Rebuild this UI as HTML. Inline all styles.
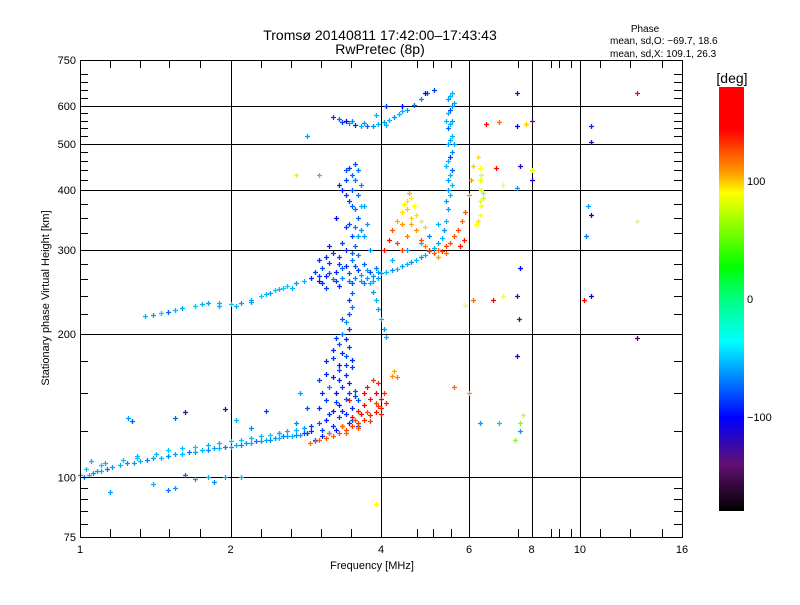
<!DOCTYPE html>
<html><head><meta charset="utf-8"><style>
body{margin:0;background:#fff;}
svg text{font-family:"Liberation Sans",sans-serif;fill:#000;}
</style></head><body>
<svg id="chart" width="800" height="600" viewBox="0 0 800 600" xmlns="http://www.w3.org/2000/svg">
<rect width="800" height="600" fill="#fff"/>
<text x="380" y="40" font-size="14" text-anchor="middle">Tromsø 20140811 17:42:00–17:43:43</text>
<text x="380" y="54" font-size="14" text-anchor="middle">RwPretec (8p)</text>
<text x="645" y="32" font-size="10" text-anchor="middle">Phase</text>
<text x="610" y="44" font-size="10">mean, sd,O: −69.7, 18.6</text>
<text x="610" y="57" font-size="10">mean, sd,X: 109.1, 26.3</text>
<g id="grid"></g>
<g id="points"></g>
<g id="axes"></g>
<text x="372" y="569" font-size="11" text-anchor="middle">Frequency [MHz]</text>
<text transform="translate(49,298) rotate(-90)" font-size="11" text-anchor="middle">Stationary phase Virtual Height [km]</text>
<defs><linearGradient id="cg" x1="0" y1="1" x2="0" y2="0">
<stop offset="0" stop-color="#000"/><stop offset="0.11" stop-color="#601070"/><stop offset="0.22" stop-color="#0000ff"/><stop offset="0.4" stop-color="#00ffff"/><stop offset="0.5" stop-color="#00ff80"/><stop offset="0.575" stop-color="#00ff00"/><stop offset="0.75" stop-color="#ffff00"/><stop offset="0.8" stop-color="#ff9900"/><stop offset="0.9" stop-color="#ff0000"/><stop offset="1" stop-color="#ff0000"/></linearGradient></defs>
<rect x="719" y="87" width="25" height="424" fill="url(#cg)"/>
<text x="732" y="83" font-size="14" text-anchor="middle">[deg]</text>
<g id="cbar"></g>
</svg>
<script>
const xMajorTicks=[1,2,4,6,8,10,16];
const xGridLines=[2,4,6,8,10];
const xMinorTicks=[1.15,1.32,1.51,1.74,2.3,2.64,3.03,3.48,4.72,5.09,5.53,7.52,8.74,9.1,9.6,10.96,12.6,14.6];
const yMajorTicks=[75,100,200,300,400,500,600,750];
const yGridLines=[100,200,300,400,500,600];
const yMinorTicks=[80,85,90,95,125,150,175,220,240,260,280,325,350,375,420,440,460,480,520,540,560,580,625,650,675,700];
const colorTicks=[100,0,-100];

const lowOTrace=[[1.0,101,-60],[1.02,100,-70],[1.04,101,-55],[1.06,102,-65],[1.08,103,-60],[1.1,103,-55],[1.13,104,-70],[1.16,105,-60],[1.2,106,-55],[1.24,107,-65],[1.28,107,-60],[1.32,108,-55],[1.36,109,-70],[1.4,110,-60],[1.45,110,-55],[1.5,111,-65],[1.55,112,-60],[1.6,112,-55],[1.65,113,-70],[1.7,113,-60],[1.75,114,-55],[1.8,114,-65],[1.85,115,-60],[1.9,115,-55],[1.95,116,-70],[2.0,116,-60],[2.05,117,-55],[2.1,117,-65],[2.15,118,-60],[2.2,118,-55],[2.25,119,-70],[2.3,119,-60],[2.35,120,-55],[2.4,120,-65],[2.45,121,-60],[2.5,121,-55],[2.55,122,-70],[2.6,122,-60],[2.65,122,-55],[2.7,123,-65],[2.75,123,-60],[2.8,124,-80],[2.85,124,-85],[2.9,125,-90],[1.7,116,-50],[1.9,118,-55],[2.1,120,-50],[2.3,122,-55],[2.5,124,-50],[2.7,126,-55],[2.9,128,-85],[1.5,114,-50],[1.3,111,-55],[1.1,106,-50],[1.03,104,-50],[1.12,107,-55],[1.22,109,-50],[1.42,112,-55],[1.6,115,-50],[1.8,117,-55],[2.0,119,-50],[2.2,121,-55],[2.4,123,-50],[2.6,125,-55],[2.8,127,-60]];
const lowScatter=[[1.05,108,-55],[1.15,93,-60],[1.4,97,-55],[1.5,94,-70],[1.55,95,-60],[1.62,101,-75],[1.7,99,-60],[1.8,100,-55],[1.85,98,-65],[1.95,100,-60],[2.1,100,-55],[1.25,133,-60],[1.27,131,-75],[1.55,133,-75],[1.62,137,-130],[1.95,139,-120],[2.05,132,-55],[2.2,127,-65],[2.35,138,-85],[2.5,124,-55],[1.3,110,-50]];
const oColumn=[[2.95,120,-85],[3.05,122,-90],[3.15,124,-80],[3.25,126,-95],[3.35,128,-85],[3.45,130,-90],[3.0,130,-80],[3.1,132,-95],[3.2,128,-90],[3.3,134,-85],[3.4,136,-90],[3.5,132,-80],[3.0,140,-90],[3.1,145,-85],[3.2,138,-95],[3.3,142,-90],[3.4,146,-80],[3.5,140,-90],[3.55,148,-85],[3.05,150,-90],[3.15,155,-70],[3.25,150,-95],[3.35,155,-85],[3.45,158,-90],[3.55,152,-80],[3.0,160,-85],[3.1,165,-90],[3.2,162,-95],[3.3,168,-80],[3.4,164,-90],[3.5,170,-85],[3.1,175,-90],[3.2,178,-85],[3.3,172,-95],[3.4,180,-80],[3.5,176,-90],[3.45,188,-85],[3.2,185,-90],[3.3,190,-80],[3.4,195,-90],[3.35,200,-70],[3.45,205,-85],[3.4,212,-65],[3.45,220,-80],[3.5,228,-70],[3.45,236,-85],[3.5,244,-75],[3.35,182,-90],[3.25,196,-85],[2.75,150,-60],[2.85,140,-80],[2.7,130,-65],[3.6,128,-85],[3.6,145,-80],[3.05,126,-85],[3.15,136,-90],[3.25,144,-85],[3.35,138,-90],[3.45,150,-85],[3.3,160,-90],[3.4,172,-85],[3.35,215,-80]];
const lowXTrace=[[2.88,118,120],[2.95,119,122],[3.0,120,120],[3.1,121,125],[3.2,122,122],[3.3,124,125],[3.4,126,128],[3.5,128,130],[3.6,130,132],[3.7,132,135],[3.8,135,138],[3.9,137,140],[4.0,140,138],[4.1,143,135],[3.4,124,122],[3.6,127,125],[3.8,131,130],[4.0,136,140],[3.5,134,140],[3.6,138,142],[3.7,142,145],[3.8,146,140],[3.9,150,145],[4.0,146,148],[3.75,155,140],[3.85,160,132],[3.95,158,136],[3.7,150,150],[3.65,136,145],[3.9,143,128],[4.05,150,132],[4.2,163,110],[4.3,162,115],[4.25,167,105],[3.45,145,140],[3.15,124,118],[3.35,128,120],[3.55,132,125],[3.75,137,128],[3.95,141,132]];
const fLowTrace=[[1.35,218,-55],[1.4,219,-60],[1.45,221,-50],[1.5,222,-75],[1.55,224,-55],[1.6,226,-60],[1.7,229,-50],[1.8,232,-60],[1.9,232,-55],[2.0,231,-50],[2.1,232,-60],[2.2,236,-55],[2.3,240,-50],[2.4,244,-60],[2.5,248,-55],[2.6,252,-50],[2.7,256,-60],[2.8,258,-55],[1.9,229,-55],[2.2,233,-60],[2.45,247,-50],[2.65,250,-55],[1.75,231,-55],[2.05,229,-55],[2.35,242,-55],[2.55,250,-50]];
const fCloud=[[2.9,262,-90],[2.95,270,-85],[3.0,258,-95],[3.05,275,-80],[3.1,265,-90],[3.15,282,-85],[3.2,260,-70],[3.25,270,-90],[3.3,290,-85],[3.35,262,-65],[3.4,278,-90],[3.45,268,-80],[3.5,285,-70],[3.55,262,-65],[3.6,272,-85],[3.65,266,-60],[3.7,280,-75],[3.75,262,-60],[3.8,270,-80],[3.85,264,-65],[3.9,275,-70],[3.95,262,-60],[4.0,268,-65],[3.1,250,-85],[3.3,252,-90],[3.5,255,-80],[3.7,256,-70],[3.0,285,-90],[3.2,295,-85],[3.4,300,-90],[3.6,292,-70],[3.15,305,-90],[3.35,310,-85],[3.55,305,-75],[3.5,320,-80],[3.65,330,-65],[3.4,335,-85],[3.6,350,-75],[3.55,365,-70],[3.45,380,-85],[3.6,390,-70],[3.5,400,-80],[3.3,410,-90],[3.4,420,-85],[3.5,430,-75],[3.6,440,-70],[3.55,455,-80],[3.45,445,-85],[3.35,400,-95],[3.65,410,-65],[3.7,370,-60],[3.7,320,-60],[3.8,300,-65],[3.75,340,-60],[3.25,350,-100],[3.8,255,-55],[3.85,245,-60],[3.9,235,-55],[3.95,225,-60],[4.0,215,-55],[4.05,205,-60],[4.1,197,-55],[3.0,265,-85],[3.05,255,-90],[3.15,268,-80],[3.25,258,-85],[3.35,275,-75],[3.45,258,-70],[3.55,278,-80],[3.65,258,-60],[3.75,272,-60],[3.85,258,-55],[3.95,270,-60],[3.1,290,-90],[3.3,280,-85],[3.5,295,-75],[3.45,340,-80],[3.55,335,-70],[3.5,370,-75],[3.4,390,-85],[3.55,420,-70],[3.4,440,-80],[3.65,370,-55],[3.6,320,-60]];
const fOTrace=[[4.1,270,-55],[4.2,272,-65],[4.3,274,-55],[4.4,277,-60],[4.5,280,-55],[4.6,283,-65],[4.7,286,-55],[4.8,290,-60],[4.9,293,-55],[5.0,298,-65],[5.1,303,-55],[5.2,310,-60],[5.3,318,-55],[5.35,330,-65],[5.4,345,-55],[5.45,365,-60],[5.5,390,-55],[4.2,285,-55],[4.5,300,-60],[4.8,310,-55],[5.0,320,-65],[5.2,340,-55],[5.45,400,-65],[5.55,410,-55],[5.45,420,-60],[5.55,440,-75],[5.45,460,-55],[5.55,480,-65],[5.45,500,-60],[5.55,520,-55],[5.45,540,-75],[5.55,560,-60],[5.45,580,-55],[5.55,600,-65],[5.45,620,-60],[5.55,640,-55],[5.5,430,-55],[5.5,470,-85],[5.5,510,-60],[5.5,550,-55],[5.5,590,-80],[5.5,630,-55],[5.4,380,-60],[5.4,450,-55],[5.6,500,-60],[5.4,560,-55],[5.6,610,-60]];
const fXTrace=[[4.2,330,125],[4.3,345,105],[4.4,360,95],[4.45,375,92],[4.5,380,95],[4.6,385,92],[4.65,370,88],[4.7,355,95],[4.6,340,105],[4.5,320,115],[4.4,300,130],[4.3,310,128],[4.7,330,110],[4.8,315,125],[4.9,305,115],[5.0,300,130],[5.1,295,125],[5.2,300,120],[5.3,298,130],[5.4,305,128],[5.5,310,125],[5.6,320,125],[5.7,330,128],[5.8,345,120],[5.9,360,125],[6.0,390,112],[6.05,420,108],[6.1,450,100],[5.2,290,108],[4.8,345,92],[4.9,335,98],[4.55,395,105],[5.75,305,140],[5.85,315,138],[4.15,315,140],[4.05,300,145],[4.5,365,100],[4.6,350,98],[4.4,340,110],[5.4,295,120]];
const xGreenTrace=[[6.25,470,95],[6.3,445,90],[6.3,420,85],[6.35,400,80],[6.4,385,75],[6.35,370,85],[6.3,355,90],[6.25,345,95],[6.4,395,70],[6.2,340,90],[6.35,430,80],[6.3,380,85]];
const upperTrace=[[3.3,565,-75],[3.35,555,-85],[3.45,552,-60],[3.55,548,-90],[3.65,545,-55],[3.75,545,-75],[3.85,546,-65],[3.95,550,-55],[4.05,555,-60],[4.15,562,-55],[4.25,570,-65],[4.35,578,-55],[4.5,590,-60],[4.65,605,-75],[4.8,620,-65],[4.95,640,-75],[5.1,650,-85],[3.4,560,-100],[3.2,570,-85],[3.9,575,-55],[3.5,560,-65],[3.7,552,-60],[4.1,548,-55],[4.4,585,-55]];
const sparsePoints=[[7.5,640,-120],[7.5,545,-100],[7.6,450,-110],[7.5,405,-60],[7.6,275,-100],[7.5,240,-130],[7.55,215,-140],[7.5,180,-110],[7.6,130,60],[7.4,120,60],[10.5,545,-90],[10.5,505,-110],[10.4,370,-60],[10.5,355,-100],[10.3,320,-70],[10.5,240,-100],[10.2,235,170],[13,640,150],[13,345,90],[13,196,-150],[6.7,235,150],[7.0,240,90],[8.0,420,-110],[6.5,550,150],[6.9,555,120],[7.8,550,100],[8.0,560,-140],[6.1,235,120],[5.9,230,90],[3.9,88,90],[6.8,445,150],[7.0,410,90],[6.0,150,110],[5.6,155,120],[6.3,130,-60],[2.7,430,80],[3.0,430,30],[6.9,130,-50],[7.7,135,80],[8.0,440,80],[4.1,600,-90],[4.4,600,-100],[4.9,640,-110],[2.85,520,-60],[7.6,125,-60]];

const NS="http://www.w3.org/2000/svg";
const X0=80,X1=682,Y0=60,Y1=537;
function xs(f){return X0+150.5*Math.log2(f);}
function ys(h){return Y1-477*Math.log10(h/75);}
const stops=[[-180,[0,0,0]],[-140,[96,16,112]],[-100,[0,0,255]],[-36,[0,255,255]],[0,[0,255,128]],[27,[0,255,0]],[90,[255,255,0]],[108,[255,153,0]],[144,[255,0,0]],[180,[255,0,0]]];
function col(p){for(let i=1;i<stops.length;i++){if(p<=stops[i][0]){const a=stops[i-1],b=stops[i];const t=(p-a[0])/(b[0]-a[0]);const c=a[1].map((v,k)=>Math.round(v+(b[1][k]-v)*t));return 'rgb('+c.join(',')+')';}}return "rgb(255,0,0)";}
function mk(tag,attrs,parent){const e=document.createElementNS(NS,tag);for(const k in attrs)e.setAttribute(k,attrs[k]);parent.appendChild(e);return e;}

const grid=document.getElementById('grid'),axes=document.getElementById('axes'),pts=document.getElementById('points'),cbar=document.getElementById('cbar');
xGridLines.forEach(f=>{const l=mk('line',{x1:Math.round(xs(f))+.5,x2:Math.round(xs(f))+.5,y1:Y0,y2:Y1,stroke:'#000','stroke-width':1},grid);

});
yGridLines.forEach(h=>{const l=mk('line',{x1:X0,x2:X1,y1:Math.round(ys(h))+.5,y2:Math.round(ys(h))+.5,stroke:'#000','stroke-width':1},grid);

});

const groups=[['low-o-trace',lowOTrace],['low-scatter',lowScatter],['o-column',oColumn],['low-x-trace',lowXTrace],['f-low-trace',fLowTrace],['f-cloud',fCloud],['f-o-trace',fOTrace],['f-x-trace',fXTrace],['x-green-trace',xGreenTrace],['upper-trace',upperTrace],['sparse-points',sparsePoints]];
groups.forEach(([name,arr])=>{const g=mk('g',{},pts);


arr.forEach(d=>{const x=Math.round(xs(d[0])),y=Math.round(ys(d[1]));const p=mk('path',{d:'M'+(x-2)+' '+(y+.5)+'h5M'+(x+.5)+' '+(y-2)+'v5',stroke:col(d[2]),'stroke-width':1.3,fill:'none'},g);

});});

const box=mk('rect',{x:X0+.5,y:Y0+.5,width:X1-X0,height:Y1-Y0,fill:'none',stroke:'#000','stroke-width':1},axes);


xMajorTicks.forEach(f=>{const x=Math.round(xs(f))+.5;
mk('line',{x1:x,x2:x,y1:Y1,y2:Y1-8,stroke:'#000'},axes);mk('line',{x1:x,x2:x,y1:Y0,y2:Y0+8,stroke:'#000'},axes);
const t=mk('text',{x:xs(f),y:553,'font-size':11,'text-anchor':'middle'},axes);t.textContent=f;

});
xMinorTicks.forEach(f=>{const x=Math.round(xs(f))+.5;mk('line',{x1:x,x2:x,y1:Y1,y2:Y1-8,stroke:'#000'},axes);mk('line',{x1:x,x2:x,y1:Y0,y2:Y0+8,stroke:'#000'},axes);});
yMajorTicks.forEach(h=>{const y=Math.round(ys(h))+.5;
mk('line',{x1:X0,x2:X0+10,y1:y,y2:y,stroke:'#000'},axes);mk('line',{x1:X1,x2:X1-10,y1:y,y2:y,stroke:'#000'},axes);
const t=mk('text',{x:76,y:ys(h)+4,'font-size':11,'text-anchor':'end'},axes);t.textContent=h;

});
yMinorTicks.forEach(h=>{const y=Math.round(ys(h))+.5;mk('line',{x1:X0,x2:X0+8,y1:y,y2:y,stroke:'#000'},axes);mk('line',{x1:X1,x2:X1-8,y1:y,y2:y,stroke:'#000'},axes);});
colorTicks.forEach(v=>{const y=87+424*(180-v)/360;const t=mk('text',{x:747,y:y+4,'font-size':11},cbar);t.textContent=v<0?'−'+(-v):v;

});
</script>
</body></html>
